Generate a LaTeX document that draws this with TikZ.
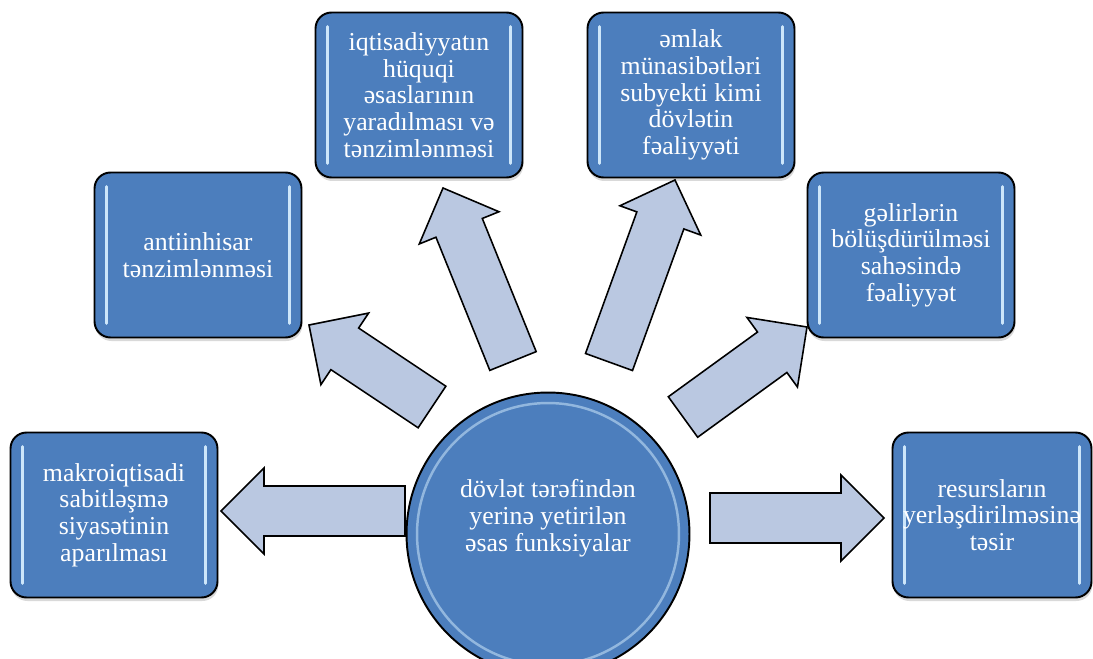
\documentclass[tikz,border=0pt]{standalone}
\usepackage{fontspec}
\setmainfont{Liberation Serif}
\usetikzlibrary{calc,shadows}

\definecolor{boxblue}{RGB}{76,126,189}
\definecolor{arrowfill}{RGB}{186,200,225}
\definecolor{glint}{RGB}{205,230,250}

\newcommand\shaftw{0.5cm}
\newcommand\headw{0.86cm}
\newcommand\headlen{0.86cm}
% block arrow from #1 (tail) to #2 (tip)
\newcommand\blockarrow[2]{%
  \coordinate (hb) at ($(#2)!\headlen!(#1)$);
  \draw[flow] ($(#1)!\shaftw!90:(#2)$) -- ($(hb)!\shaftw!-90:(#1)$)
    -- ($(hb)!\headw!-90:(#1)$) -- (#2) -- ($(hb)!\headw!90:(#1)$)
    -- ($(hb)!\shaftw!90:(#1)$) -- ($(#1)!\shaftw!-90:(#2)$) -- cycle;}

\begin{document}
\begin{tikzpicture}[x=0.02cm, y=-0.02cm,
  txt/.style={text=white, align=center, font=\fontsize{14.7pt}{15.2pt}\selectfont},
  fbox/.style={txt, draw=black, line width=1.1pt, fill=boxblue, rounded corners=0.32cm,
    minimum width=4.14cm, minimum height=3.3cm, inner sep=0pt,
    drop shadow={opacity=0.3, shadow xshift=0.5pt, shadow yshift=-2pt},
    path picture={
      \draw[glint, line width=1.6pt, line cap=round]
        ([xshift=0.24cm, yshift=-0.28cm]path picture bounding box.north west) --
        ([xshift=0.24cm, yshift=0.28cm]path picture bounding box.south west);
      \draw[glint, line width=1.6pt, line cap=round]
        ([xshift=-0.24cm, yshift=-0.28cm]path picture bounding box.north east) --
        ([xshift=-0.24cm, yshift=0.28cm]path picture bounding box.south east);}},
  flow/.style={draw=black, line width=0.9pt, fill=arrowfill, line join=miter}]
\useasboundingbox (0,0) rectangle (1093,659);

% centre
\node[circle, draw=black, line width=1.1pt, fill=boxblue, minimum size=5.66cm, inner sep=0pt] (C) at (548,534) {};
\draw[glint, line width=1.4pt, opacity=0.55] (C.center) circle[radius=2.62cm];
\node[txt] (Ct) at (548,518) {dövlət tərəfindən\\yerinə yetirilən\\əsas funksiyalar};

% outer boxes
\node[fbox] (mak) at (114,515) {makroiqtisadi\\sabitləşmə\\siyasətinin\\aparılması};
\node[fbox] (ant) at (198,255) {antiinhisar\\tənzimlənməsi};
\node[fbox] (huq) at (419,95) {iqtisadiyyatın\\hüquqi\\əsaslarının\\yaradılması və\\tənzimlənməsi};
\node[fbox] (eml) at (691,95) {əmlak\\münasibətləri\\subyekti kimi\\dövlətin\\fəaliyyəti};
\node[fbox] (gel) at (911,255) {gəlirlərin\\bölüşdürülməsi\\sahəsində\\fəaliyyət};
\node[fbox, minimum width=3.98cm] (res) at (992,515) {resursların\\yerləşdirilməsinə\\təsir};

% arrow ends
\coordinate (a1) at (405,511);  \coordinate (b1) at (221,511);
\coordinate (a2) at (432,407);  \coordinate (b2) at (309,325);
\coordinate (a3) at (513,361);  \coordinate (b3) at (443,188);
\coordinate (a4) at (609,362);  \coordinate (b4) at (675,180);
\coordinate (a5) at (683,417);  \coordinate (b5) at (807,327);
\coordinate (a6) at (710,518);  \coordinate (b6) at (884,518);

\foreach \i in {1,...,6}
  \blockarrow{a\i}{b\i};
\end{tikzpicture}
\end{document}
